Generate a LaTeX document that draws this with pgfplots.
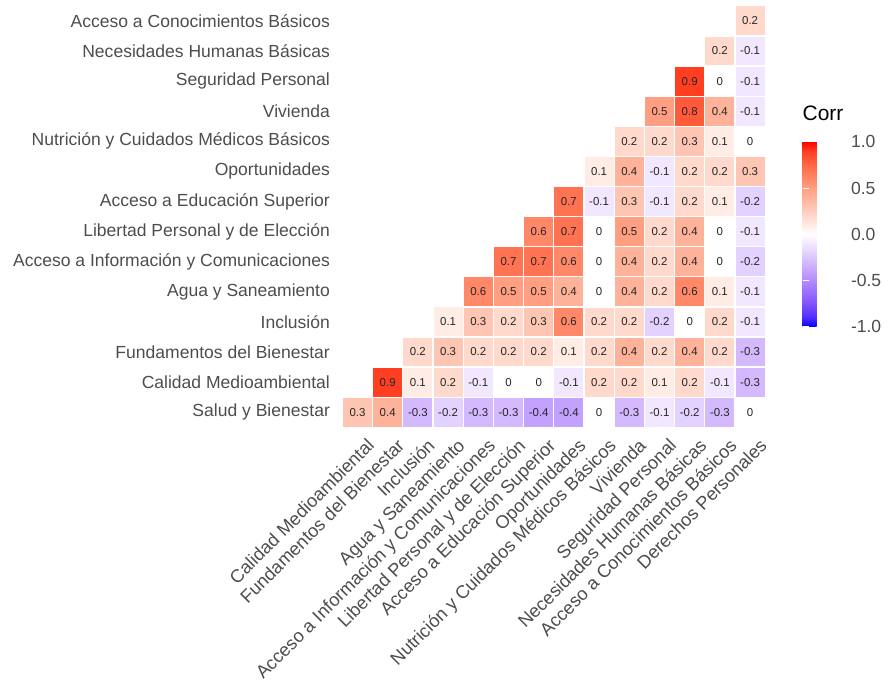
\documentclass[border=0pt]{standalone}
\usepackage{pgfplots}
\pgfplotsset{compat=1.18}
\usepackage{pgfplotstable}
\usepackage{fontspec}
\setmainfont{Liberation Sans}
\usetikzlibrary{calc}
\definecolor{axtext}{RGB}{77,77,77}
\pgfplotstableread{
x y v
0 0 0.3
1 0 0.4
2 0 -0.3
3 0 -0.2
4 0 -0.3
5 0 -0.3
6 0 -0.4
7 0 -0.4
8 0 0
9 0 -0.3
10 0 -0.1
11 0 -0.2
12 0 -0.3
13 0 0
1 1 0.9
2 1 0.1
3 1 0.2
4 1 -0.1
5 1 0
6 1 0
7 1 -0.1
8 1 0.2
9 1 0.2
10 1 0.1
11 1 0.2
12 1 -0.1
13 1 -0.3
2 2 0.2
3 2 0.3
4 2 0.2
5 2 0.2
6 2 0.2
7 2 0.1
8 2 0.2
9 2 0.4
10 2 0.2
11 2 0.4
12 2 0.2
13 2 -0.3
3 3 0.1
4 3 0.3
5 3 0.2
6 3 0.3
7 3 0.6
8 3 0.2
9 3 0.2
10 3 -0.2
11 3 0
12 3 0.2
13 3 -0.1
4 4 0.6
5 4 0.5
6 4 0.5
7 4 0.4
8 4 0
9 4 0.4
10 4 0.2
11 4 0.6
12 4 0.1
13 4 -0.1
5 5 0.7
6 5 0.7
7 5 0.6
8 5 0
9 5 0.4
10 5 0.2
11 5 0.4
12 5 0
13 5 -0.2
6 6 0.6
7 6 0.7
8 6 0
9 6 0.5
10 6 0.2
11 6 0.4
12 6 0
13 6 -0.1
7 7 0.7
8 7 -0.1
9 7 0.3
10 7 -0.1
11 7 0.2
12 7 0.1
13 7 -0.2
8 8 0.1
9 8 0.4
10 8 -0.1
11 8 0.2
12 8 0.2
13 8 0.3
9 9 0.2
10 9 0.2
11 9 0.3
12 9 0.1
13 9 0
10 10 0.5
11 10 0.8
12 10 0.4
13 10 -0.1
11 11 0.9
12 11 0
13 11 -0.1
12 12 0.2
13 12 -0.1
13 13 0.2
}\corrdata
\begin{document}
\begin{tikzpicture}
\useasboundingbox (0,0) rectangle (888bp,683bp);
\begin{axis}[
  at={(342.4bp,255.7bp)}, anchor=south west,
  scale only axis, width=422.8bp, height=421.4bp,
  xmin=-0.5, xmax=13.5, ymin=-0.5, ymax=13.5,
  axis line style={draw=none},
  major tick length=0pt,
  xtick={0,...,13}, ytick={0,...,13},
  xticklabels={Calidad Medioambiental,Fundamentos del Bienestar,Inclusión,Agua y Saneamiento,Acceso a Información y Comunicaciones,Libertad Personal y de Elección,Acceso a Educación Superior,Oportunidades,Nutrición y Cuidados Médicos Básicos,Vivienda,Seguridad Personal,Necesidades Humanas Básicas,Acceso a Conocimientos Básicos,Derechos Personales},
  yticklabels={Salud y Bienestar,Calidad Medioambiental,Fundamentos del Bienestar,Inclusión,Agua y Saneamiento,Acceso a Información y Comunicaciones,Libertad Personal y de Elección,Acceso a Educación Superior,Oportunidades,Nutrición y Cuidados Médicos Básicos,Vivienda,Seguridad Personal,Necesidades Humanas Básicas,Acceso a Conocimientos Básicos},
  ticklabel style={text=axtext},
  yticklabel style={font=\fontsize{17.6}{20}\selectfont, anchor=east, xshift=-9bp},
  xticklabel style={font=\fontsize{18.3}{20}\selectfont, rotate=45, anchor=north east, inner sep=1bp, xshift=0bp, yshift=-12bp},
  colormap={corr}{rgb255(0cm)=(0,0,255) rgb255(2cm)=(80,43,255) rgb255(5cm)=(128,83,255) rgb255(10cm)=(179,139,255) rgb255(15cm)=(220,197,255) rgb255(20cm)=(255,255,255) rgb255(25cm)=(255,207,191) rgb255(30cm)=(255,158,129) rgb255(35cm)=(255,104,70) rgb255(38cm)=(255,62,34) rgb255(40cm)=(255,0,0)},
  point meta min=-1, point meta max=1,
  colorbar,
  colorbar style={
    at={($(parent axis.north east)+(28.8bp,-136bp)$)}, anchor=north west,
    scale only axis, width=38bp, height=185bp,
    ytick={-1,-0.5,0,0.5,1},
    yticklabels={-1.0,-0.5,0.0,0.5,1.0},
    yticklabel style={font=\fontsize{17.6}{20}\selectfont, text=axtext, xshift=7bp},
    axis line style={draw=none},
    major tick length=6bp, tick align=inside, ytick pos=both,
    ytick style={draw=white, line width=1bp},
    yticklabel pos=right,
    title={Corr},
    title style={at={(0,1)}, anchor=base west, yshift=15bp, inner sep=0pt, font=\fontsize{21}{24}\selectfont, text=black},
  },
  clip=false,
]
\addplot[scatter, only marks, mark=square*, mark size=15.1bp,
  scatter/use mapped color={draw=white, fill=mapped color},
  mark options={line width=1.3bp},
  point meta=explicit] table[x=x, y=y, meta=v]{\corrdata};
\addplot[draw=none, mark=none, nodes near coords, point meta=explicit symbolic,
  every node near coord/.append style={anchor=center, font=\fontsize{11.5}{13}\selectfont, text=black!85}]
  table[x=x, y=y, meta=v]{\corrdata};
\end{axis}
\end{tikzpicture}
\end{document}
